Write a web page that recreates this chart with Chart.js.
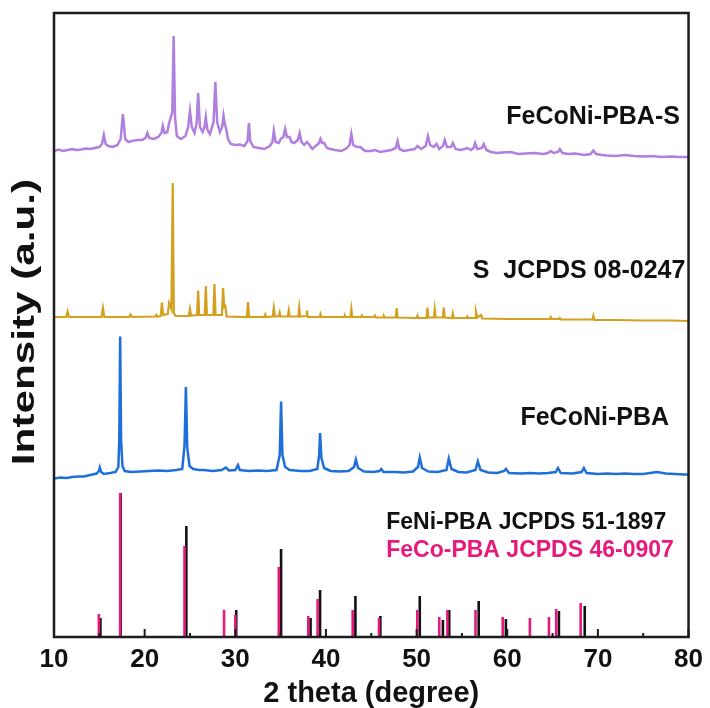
<!DOCTYPE html>
<html>
<head>
<meta charset="utf-8">
<script src="https://cdn.jsdelivr.net/npm/chart.js@4.4.1/dist/chart.umd.min.js"></script>
<style>
  html, body { margin: 0; padding: 0; background: #fff; }
  #wrap { width: 710px; height: 708px; }
</style>
</head>
<body>
<div id="wrap"><canvas id="xrd" width="710" height="708"></canvas></div>
<script>
// stacked XRD patterns, [2theta, intensity above own baseline]
const FONT = '"Liberation Sans", Arial, Helvetica, sans-serif'

const pbaS = [[10,6],[10.5,7.5],[11,6],[11.5,7],[12,8],[12.5,7],[13,7.5],[13.5,8.5],[14,8],[14.5,9],[15,10],[15.3,13],[15.5,22],[15.7,13],[16,11],[16.5,10],[17,12],[17.35,18],[17.6,43],[17.85,18],[18.2,15],[18.6,16],[19.2,17],[19.7,17],[20.1,19],[20.3,24],[20.5,19],[21,18],[21.5,20],[21.85,24],[22,31],[22.2,24],[22.5,25],[22.7,34],[23.05,45],[23.2,121],[23.35,40],[23.55,21],[24,18],[24.5,21],[24.8,30],[25,46],[25.2,30],[25.5,24],[25.75,35],[25.9,64],[26.1,30],[26.4,25],[26.6,30],[26.75,40],[26.9,28],[27.2,23],[27.6,35],[27.8,75],[28,35],[28.3,25],[28.55,30],[28.7,41],[28.85,32],[28.95,30],[29.2,18],[29.5,13],[30,12],[30.5,12.5],[31,11],[31.35,16],[31.5,34],[31.65,16],[32,10],[32.6,9],[33.2,8],[33.8,11],[34.1,15],[34.25,26],[34.45,15],[34.8,14],[35,18],[35.3,20],[35.5,28],[35.7,20],[36,20],[36.2,15],[36.5,14],[36.9,17],[37.1,24],[37.3,15],[37.6,12],[37.9,15],[38.1,13],[38.5,8],[39,12],[39.25,14],[39.4,18],[39.6,14],[39.8,14],[40.1,9],[40.5,8],[41,7],[41.7,6],[42.3,9],[42.6,12],[42.8,23],[43,12],[43.4,10],[43.8,10],[44.3,6],[45,6],[45.4,7],[46,5],[46.6,6],[47.2,7],[47.7,9],[47.9,16],[48.1,8],[48.6,6],[49.2,7],[49.8,8],[50.1,11],[50.5,8],[51,11],[51.25,21],[51.5,12],[51.9,10],[52.2,13],[52.5,8],[52.9,11],[53.1,17],[53.35,10],[53.8,10],[54,14],[54.3,8],[54.8,7],[55.3,8],[55.6,9],[56,7],[56.3,9],[56.45,14],[56.7,8],[57.2,9],[57.4,13],[57.7,7],[58.2,5],[58.8,4],[59.5,4.5],[60.4,5],[61.2,3],[62,3.5],[63,4],[64,3],[64.5,4],[64.8,6],[65.1,4],[65.6,5],[65.8,8],[66.1,4],[66.7,3],[67.5,3.5],[68.5,2],[69.2,3],[69.5,6.5],[69.8,3],[70.5,2],[71,1.5],[72,1],[73,2],[74,1],[75,0.5],[76,1],[77,0],[78,0.5],[79,0],[80,0]]

const sulfur = [[10,4],[11.35,4],[11.5,9.5],[11.65,4],[15.25,4],[15.4,13],[15.55,4],[18.3,4],[18.45,6.5],[18.6,4],[21.2,4.5],[21.3,6],[21.4,4.5],[21.78,5],[21.9,18.5],[22.05,6],[22.55,7],[22.7,18],[22.95,12],[23.1,138],[23.22,8],[23.4,5],[24.5,5],[24.88,5],[25,12],[25.12,5.5],[25.78,6],[25.9,30.5],[26.02,6],[26.63,6],[26.75,35],[26.87,6],[27.58,6],[27.7,37],[27.82,6],[28.53,6],[28.65,33],[28.78,14],[28.9,15],[29.05,4.5],[31.28,4],[31.4,19],[31.52,4],[33.2,4],[33.3,6.5],[33.4,4],[34.13,4.5],[34.25,13],[34.37,4.5],[34.8,5],[34.9,8.5],[35,4.5],[35.8,4.5],[35.9,10.5],[36,4.5],[36.95,4.5],[37.05,13.5],[37.15,4.5],[37.8,5],[37.9,10.5],[38,4],[39.3,4],[39.4,7],[39.5,4],[42,4],[42.1,5.5],[42.2,4],[42.7,4],[42.8,12],[42.9,4],[43.85,4],[43.95,5.5],[44.05,4],[45.3,4],[45.4,5.5],[45.5,3.5],[46.3,3.5],[46.4,5],[46.5,3.5],[47.7,3.5],[47.8,13],[47.9,3.5],[50,3],[50.1,5.5],[50.2,3],[51.1,3],[51.2,13.5],[51.3,3.5],[51.9,3.5],[52,12],[52.1,3.5],[52.9,3.5],[53,13.5],[53.1,3.5],[53.9,3],[54,7.5],[54.1,3],[55.5,3],[55.6,4.5],[55.7,3],[56.45,3],[56.55,9.5],[56.7,3.5],[57.1,6],[57.25,2.5],[60,2],[62,2],[64.7,2],[64.8,4],[64.9,2],[65.7,2],[65.8,3],[65.9,1.5],[69.4,1.5],[69.5,5],[69.6,1],[72,1],[75,0.5],[78,0.5],[80,0]]

const pba = [[10,1.5],[10.7,2.5],[11.4,2],[12,3],[12.7,3.5],[13.3,3.5],[14,5],[14.7,6.5],[14.95,9],[15.05,12.5],[15.2,8],[15.5,6],[16.2,7],[16.8,8],[17.1,13],[17.2,40],[17.3,143.5],[17.4,40],[17.55,14],[17.8,9],[18.5,8],[19.5,8.5],[20.5,9],[21.5,9.5],[22.5,9],[23.5,10],[24.15,11],[24.4,35],[24.55,93],[24.7,32],[24.95,14],[25.35,11],[26,10],[26.5,10],[27.5,9],[28.5,10],[28.95,12.5],[29.3,9.5],[30,10],[30.3,15],[30.5,10],[31.5,9],[32.5,9.5],[33.5,9],[34.55,10],[34.9,25],[35.05,78.5],[35.2,25],[35.5,13],[36,10],[37.2,9],[38.2,9],[39.05,11],[39.25,25],[39.35,47],[39.5,22],[39.8,12],[40.5,9],[41.5,8.5],[42.5,9],[43.1,13],[43.3,20.5],[43.55,12],[44.2,8.5],[45.2,8],[45.9,9],[46.1,11],[46.35,8],[47.6,8],[48.6,7.5],[49.6,8.5],[50.15,13],[50.35,22.5],[50.6,12],[51.3,8.5],[52.3,8],[53.3,10],[53.55,21.5],[53.85,11],[54.6,8],[55.5,7.5],[56.5,10],[56.75,18.5],[57.05,10],[57.9,7.5],[58.9,7],[59.65,9],[59.85,11],[60.2,7],[61.5,6.5],[62.5,7],[63.5,6.5],[64.5,7],[65.35,8],[65.6,12],[65.9,7],[67.2,6.5],[68.2,8],[68.45,12],[68.75,7],[70,6],[71,6.5],[72,6],[73,6.5],[74,6],[75,6],[76.5,8],[77.5,6.5],[78.5,6],[79.5,5.5],[80,5.5]]

// reference cards: [2theta, relative intensity]
const feniCard = [[15.12,19],[17.35,144],[24.6,111],[30.1,27],[35.05,88],[38.3,19],[39.35,47],[43.25,41],[46.0,21],[50.35,41],[52.9,17],[53.6,27],[56.85,36],[59.85,18],[65.7,26],[68.55,31]]
const fecoCard = [[14.95,23],[17.3,144],[24.4,91],[28.76,27],[30.0,22],[34.8,70],[38.05,21],[39.08,38],[42.95,27],[45.85,19],[50.08,27],[52.5,20],[53.4,27],[56.5,27],[59.5,20],[62.5,19],[64.6,20],[65.4,28],[68.1,34]]

// vertical offsets used for stacking
const offsets = { pbaS: 480, sulfur: 316, pba: 157, cards: 0 }

const xTicks = [10, 20, 30, 40, 50, 60, 70, 80]
const xMinorTicks = [15, 25, 35, 45, 55, 65, 75]

const labels = [
  { text: 'FeCoNi-PBA-S', x: 79.05, y: 520, align: 'right', color: '#111', size: 25 },
  { text: 'S  JCPDS 08-0247', x: 79.65, y: 366, align: 'right', color: '#111', size: 25 },
  { text: 'FeCoNi-PBA', x: 77.85, y: 219, align: 'right', color: '#111', size: 25 },
  { text: 'FeNi-PBA JCPDS 51-1897', x: 46.65, y: 114, align: 'left', color: '#111', size: 23 },
  { text: 'FeCo-PBA JCPDS 46-0907', x: 46.65, y: 86, align: 'left', color: '#e8197c', size: 23 }
]

function shifted(arr, off) {
  return arr.map(p => ({ x: p[0], y: p[1] + off }))
}

function sticks(arr, off) {
  const out = []
  arr.forEach(p => {
    out.push({ x: p[0], y: off }, { x: p[0], y: p[1] + off }, { x: p[0], y: null })
  })
  return out
}

function traceSet(data, color, width) {
  return { data: data, borderColor: color, borderWidth: width, pointRadius: 0, tension: 0, spanGaps: false, fill: false }
}

// frame, inward ticks, y title and the pattern names
const decor = {
  id: 'decor',
  afterDatasetsDraw(chart) {
    const { ctx, chartArea: a, scales: { x, y } } = chart
    ctx.save()
    ctx.strokeStyle = '#1c1c1c'
    ctx.lineWidth = 2.5
    ctx.strokeRect(a.left, a.top, a.right - a.left, a.bottom - a.top)
    ctx.lineWidth = 2
    xTicks.forEach(v => {
      const px = x.getPixelForValue(v)
      ctx.beginPath(); ctx.moveTo(px, a.bottom); ctx.lineTo(px, a.bottom - 8); ctx.stroke()
    })
    xMinorTicks.forEach(v => {
      const px = x.getPixelForValue(v)
      ctx.beginPath(); ctx.moveTo(px, a.bottom); ctx.lineTo(px, a.bottom - 4); ctx.stroke()
    })
    ctx.textBaseline = 'middle'
    labels.forEach(l => {
      ctx.font = 'bold ' + l.size + 'px ' + FONT
      ctx.fillStyle = l.color
      ctx.textAlign = l.align
      ctx.fillText(l.text, x.getPixelForValue(l.x), y.getPixelForValue(l.y))
    })
    // stretched y-axis title
    ctx.translate(25, (a.top + a.bottom) / 2 - 3)
    ctx.rotate(-Math.PI / 2)
    ctx.scale(1.32, 1)
    ctx.font = 'bold 32px ' + FONT
    ctx.fillStyle = '#111'
    ctx.textAlign = 'center'
    ctx.fillText('Intensity (a.u.)', 0, 0)
    ctx.restore()
  }
}

new Chart(document.getElementById('xrd'), {
  type: 'line',
  data: {
    datasets: [
      traceSet(shifted(pbaS, offsets.pbaS), '#b07fdf', 2.5),
      traceSet(shifted(sulfur, offsets.sulfur), '#d4a020', 2.2),
      traceSet(shifted(pba, offsets.pba), '#1f6fdb', 2.5),
      traceSet(sticks(fecoCard, offsets.cards), '#e8197c', 2.6),
      traceSet(sticks(feniCard, offsets.cards), '#111111', 2.6)
    ]
  },
  options: {
    responsive: false,
    animation: false,
    layout: { padding: { top: 13, right: 18, left: 0, bottom: 0 } },
    plugins: { legend: { display: false }, tooltip: { enabled: false } },
    scales: {
      x: {
        type: 'linear',
        min: 10,
        max: 80,
        grid: { display: false, drawTicks: false },
        border: { display: false },
        afterBuildTicks: s => { s.ticks = xTicks.map(v => ({ value: v })) },
        afterFit: s => { s.height = 71 },
        ticks: { color: '#111', padding: 7, font: { family: FONT, size: 26, weight: 'bold' } },
        title: {
          display: true,
          text: '2 theta (degree)',
          color: '#111',
          padding: { top: 0, bottom: 0 },
          font: { family: FONT, size: 29, weight: 'bold', lineHeight: 1 }
        }
      },
      y: {
        min: 0,
        max: 624,
        grid: { display: false, drawTicks: false },
        border: { display: false },
        ticks: { display: false },
        afterFit: s => { s.width = 54 }
      }
    }
  },
  plugins: [decor]
})
</script>
</body>
</html>
